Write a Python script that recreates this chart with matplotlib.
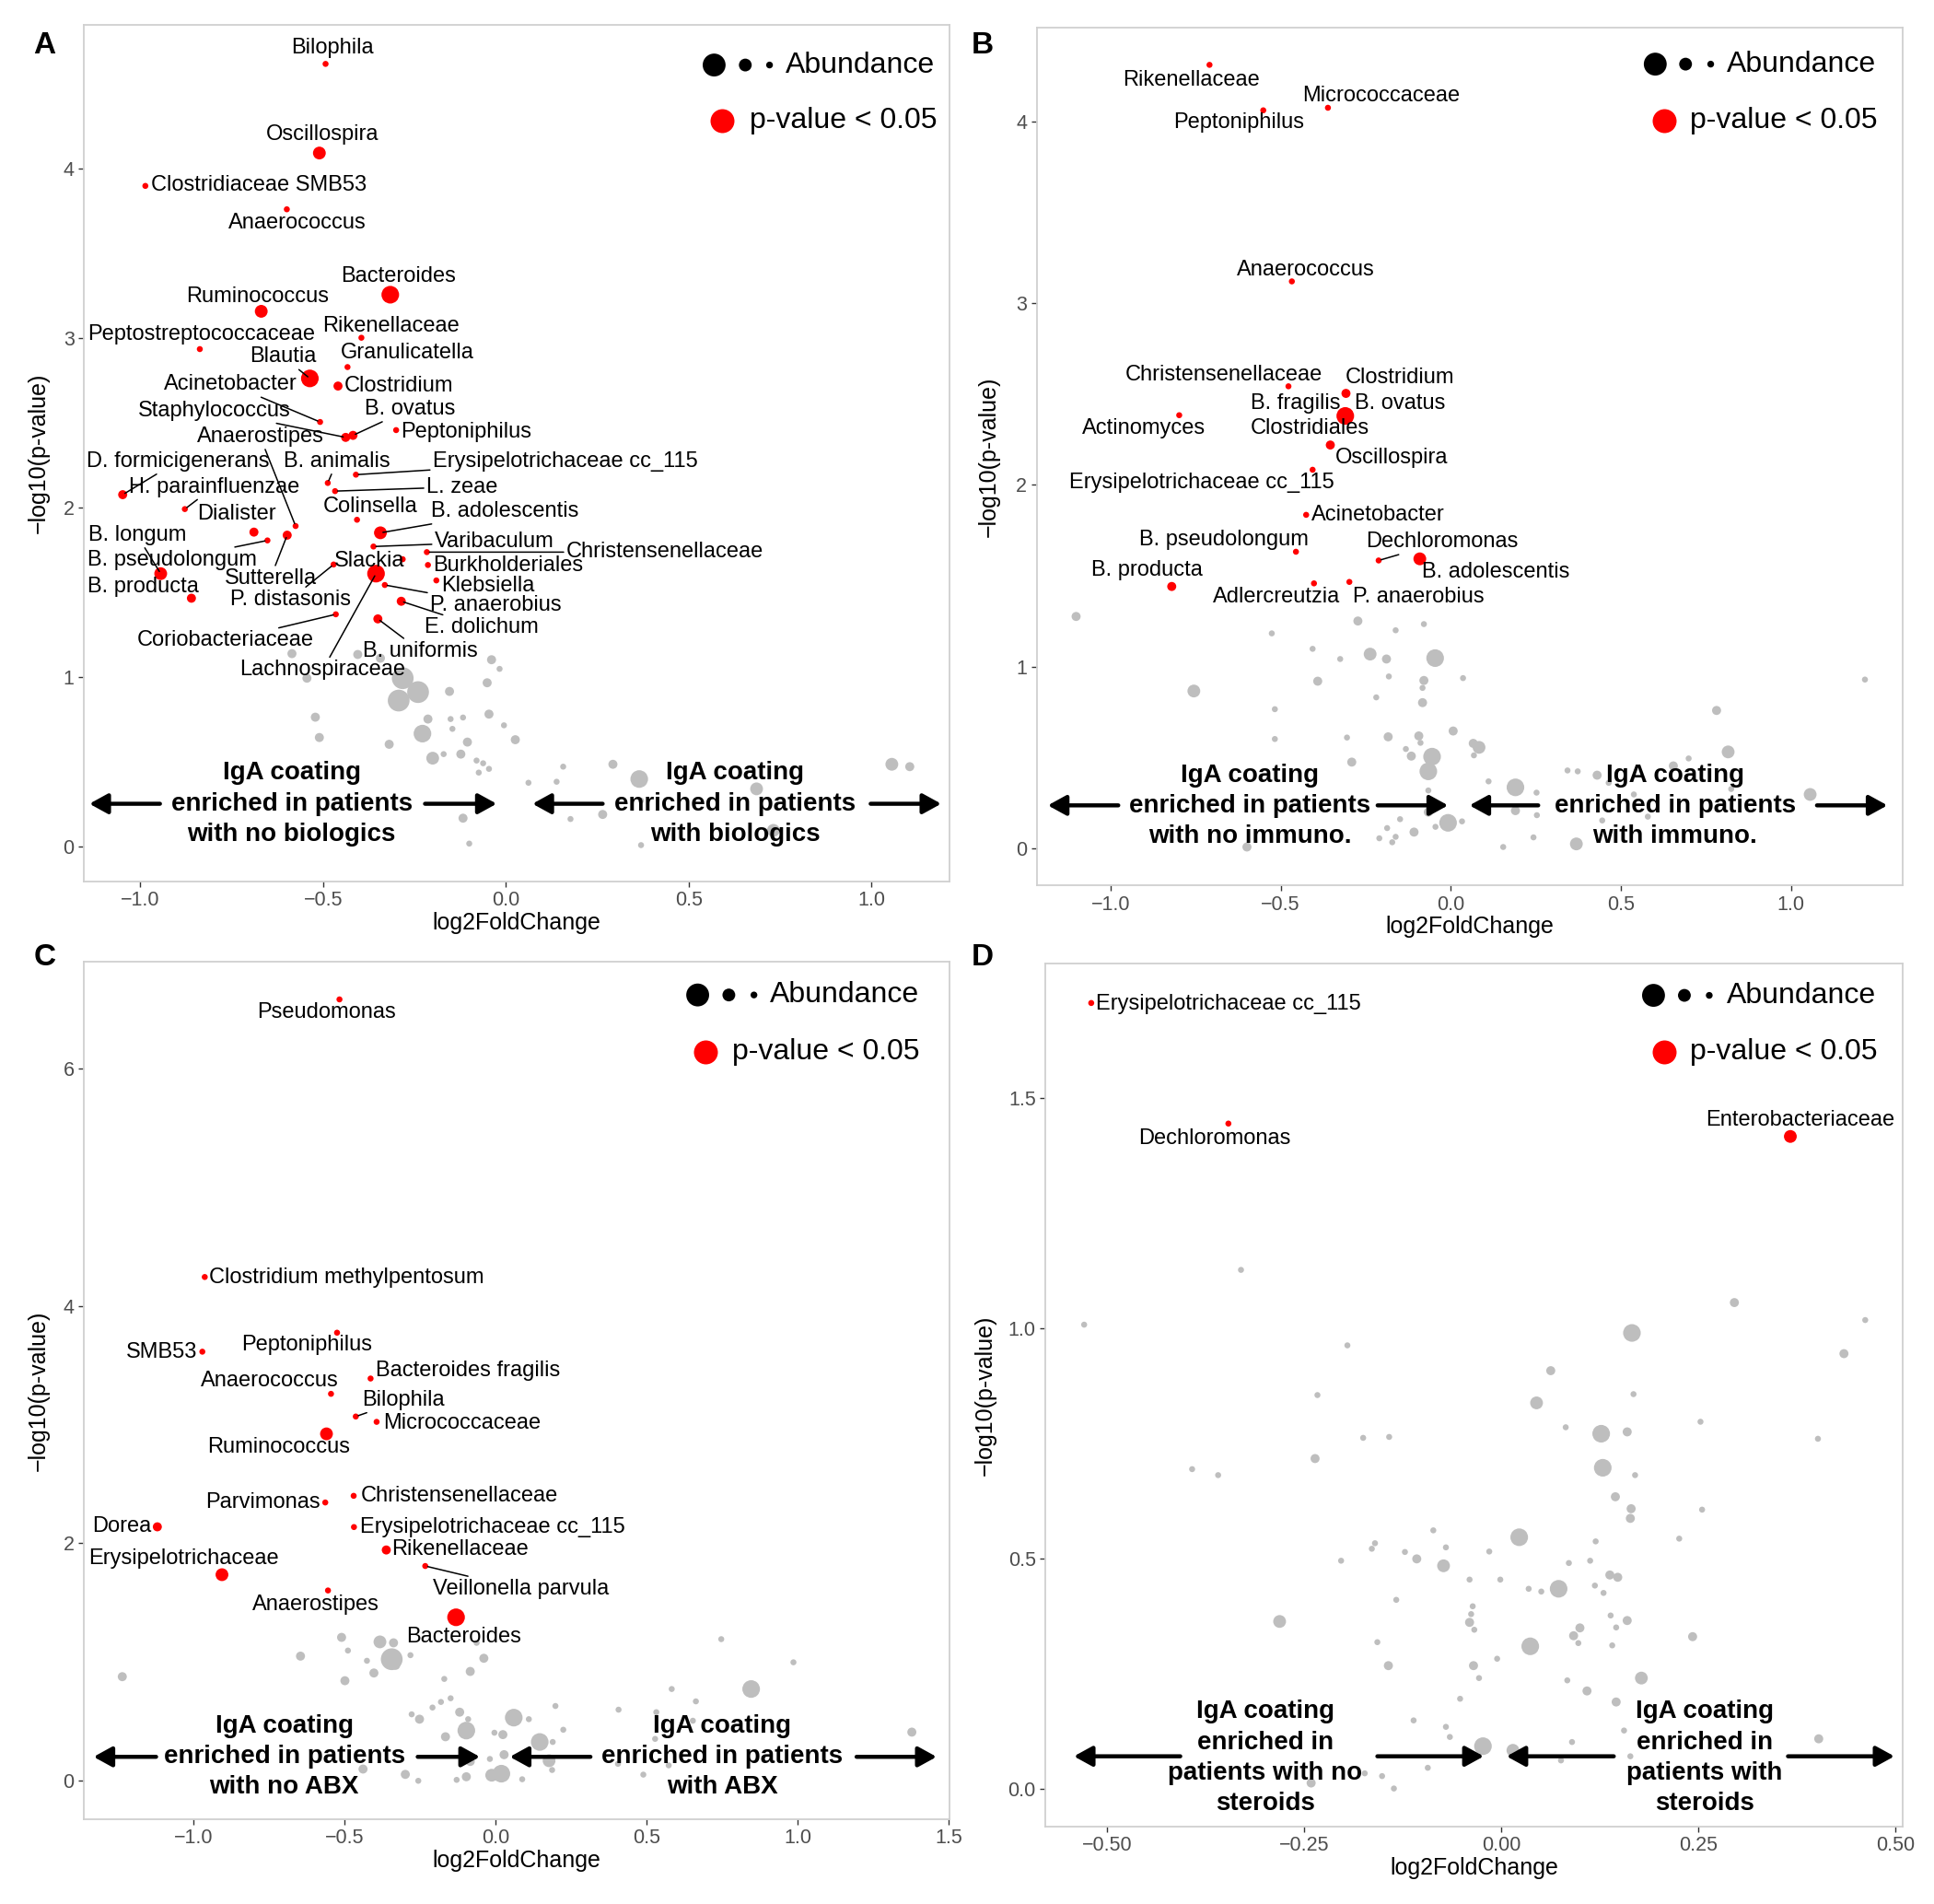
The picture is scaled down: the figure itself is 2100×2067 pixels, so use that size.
import matplotlib
matplotlib.use("Agg")
import matplotlib.pyplot as plt

plt.rcParams['font.family'] = ['Liberation Sans', 'DejaVu Sans']

# ---------------------------------------------------------------
# Panel A: biologics vs no biologics
# ---------------------------------------------------------------
a_sig_names = ["Bilophila", "Oscillospira", "Clostridiaceae SMB53", "Anaerococcus",
               "Bacteroides", "Ruminococcus", "Rikenellaceae", "Peptostreptococcaceae",
               "Blautia", "Granulicatella", "Clostridium", "Acinetobacter",
               "Staphylococcus", "B. ovatus", "Anaerostipes", "Peptoniphilus",
               "D. formicigenerans", "B. animalis", "Erysipelotrichaceae cc_115",
               "H. parainfluenzae", "L. zeae", "Dialister", "Colinsella",
               "B. adolescentis", "B. longum", "Varibaculum", "Christensenellaceae",
               "B. pseudolongum", "Burkholderiales", "Slackia", "Sutterella",
               "Klebsiella", "B. producta", "P. distasonis", "P. anaerobius",
               "E. dolichum", "Coriobacteriaceae", "B. uniformis", "Lachnospiraceae"]
a_sig_x = [-0.493, -0.510, -0.986, -0.599, -0.316, -0.669, -0.395, -0.837,
           -0.536, -0.433, -0.459, -0.508, -0.438, -0.418, -0.575, -0.300,
           -1.048, -0.487, -0.410, -0.878, -0.467, -0.689, -0.407,
           -0.343, -0.944, -0.362, -0.216, -0.652, -0.213, -0.282, -0.598,
           -0.190, -0.860, -0.471, -0.331, -0.286, -0.465, -0.350, -0.355]
a_sig_y = [4.62, 4.094, 3.90, 3.762, 3.258, 3.16, 3.004, 2.937,
           2.764, 2.831, 2.719, 2.507, 2.416, 2.428, 1.893, 2.459,
           2.078, 2.147, 2.196, 1.993, 2.099, 1.857, 1.93,
           1.853, 1.612, 1.772, 1.739, 1.808, 1.663, 1.697, 1.839,
           1.572, 1.467, 1.666, 1.545, 1.449, 1.372, 1.345, 1.612]
a_sig_ab = [1, 3, 1, 1, 4, 3, 1, 1,
            4, 1, 2, 1, 2, 2, 1, 1,
            2, 1, 1, 1, 1, 2, 1,
            3, 3, 1, 1, 1, 1, 1, 2,
            1, 2, 1, 1, 2, 1, 2, 4]
a_ns_x = [-0.585, -0.405, -0.343, -0.039, -0.017, -0.544, -0.282, -0.24, -0.293,
          -0.154, -0.051, -0.046, -0.521, -0.213, -0.117, -0.005, -0.228, -0.151,
          -0.51, -0.146, -0.319, -0.105, 0.026, -0.123, -0.17, -0.2, -0.08,
          -0.062, -0.046, -0.074, 0.157, 0.293, 0.365, 0.062, 0.139, 0.686,
          1.056, 1.105, -0.117, 0.177, 0.265, 0.732, 0.37, -0.10, 0.37]
a_ns_y = [1.14, 1.135, 1.113, 1.104, 1.05, 0.995, 0.995, 0.913, 0.863,
          0.917, 0.968, 0.783, 0.765, 0.754, 0.763, 0.717, 0.668, 0.754,
          0.645, 0.696, 0.605, 0.618, 0.632, 0.547, 0.547, 0.523, 0.509,
          0.493, 0.46, 0.438, 0.473, 0.487, 0.40, 0.378, 0.384, 0.342,
          0.487, 0.473, 0.169, 0.164, 0.191, 0.097, 0.273, 0.019, 0.01]
a_ns_ab = [2, 2, 2, 2, 1, 2, 5, 5, 5,
           2, 2, 2, 2, 2, 1, 1, 4, 1,
           2, 1, 2, 2, 2, 2, 1, 3, 1,
           1, 1, 1, 1, 2, 4, 1, 1, 3,
           3, 2, 2, 1, 2, 3, 1, 1, 1]

# ---------------------------------------------------------------
# Panel B: immunomodulators vs none
# ---------------------------------------------------------------
b_sig_names = ["Rikenellaceae", "Micrococcaceae", "Peptoniphilus", "Anaerococcus",
               "Christensenellaceae", "Clostridium", "B. fragilis", "B. ovatus",
               "Actinomyces", "Clostridiales", "Oscillospira",
               "Erysipelotrichaceae cc_115", "Acinetobacter", "B. pseudolongum",
               "Dechloromonas", "B. adolescentis", "B. producta", "Adlercreutzia",
               "P. anaerobius"]
b_sig_x = [-0.709, -0.361, -0.551, -0.467, -0.477, -0.308, -0.315, -0.305,
           -0.798, -0.310, -0.354, -0.406, -0.425, -0.455, -0.212, -0.091,
           -0.820, -0.402, -0.298]
b_sig_y = [4.31, 4.074, 4.06, 3.119, 2.542, 2.503, 2.39, 2.37,
           2.383, 2.379, 2.219, 2.083, 1.835, 1.632, 1.584, 1.593,
           1.441, 1.458, 1.466]
b_sig_ab = [1, 1, 1, 1, 1, 2, 1, 1, 1, 4, 2, 1, 1, 1, 1, 3, 2, 1, 1]
b_ns_x = [-1.101, -0.273, -0.079, -0.162, -0.526, -0.406, -0.237, -0.046, -0.325,
          -0.189, -0.182, -0.079, 0.036, -0.391, -0.755, -0.083, -0.219, -0.083,
          1.217, -0.517, 0.781, 0.007, -0.517, -0.305, -0.184, -0.094, -0.089,
          0.066, 0.083, -0.132, -0.116, -0.055, 0.068, 0.815, -0.291, 0.699,
          0.654, -0.066, 0.343, 0.373, 0.43, 0.111, 0.19, -0.066, 0.252,
          0.464, 0.824, 1.056, 0.538, 0.19, -0.066, 0.253, 0.579, 0.033,
          -0.149, -0.008, -0.045, 0.445, -0.187, -0.108, -0.162, -0.21, -0.172,
          0.243, 0.369, 0.154, -0.599]
b_ns_y = [1.276, 1.251, 1.234, 1.2, 1.183, 1.098, 1.069, 1.047, 1.042,
          1.042, 0.946, 0.924, 0.937, 0.92, 0.866, 0.883, 0.831, 0.802,
          0.929, 0.766, 0.759, 0.646, 0.602, 0.61, 0.614, 0.619, 0.581,
          0.578, 0.556, 0.547, 0.508, 0.505, 0.512, 0.531, 0.475, 0.495,
          0.454, 0.424, 0.429, 0.424, 0.403, 0.369, 0.336, 0.319, 0.307,
          0.361, 0.327, 0.297, 0.297, 0.208, 0.2, 0.183, 0.175, 0.149,
          0.161, 0.141, 0.119, 0.154, 0.112, 0.09, 0.064, 0.056, 0.034,
          0.061, 0.025, 0.008, 0.008]
b_ns_ab = [2, 2, 1, 1, 1, 1, 3, 4, 1,
           2, 1, 2, 1, 2, 3, 1, 1, 2,
           1, 1, 2, 2, 1, 1, 2, 2, 1,
           2, 3, 1, 2, 4, 1, 3, 2, 1,
           2, 4, 1, 1, 2, 1, 4, 1, 1,
           1, 1, 3, 1, 2, 2, 1, 1, 1,
           1, 4, 1, 1, 1, 2, 1, 1, 1,
           1, 3, 1, 2]

# ---------------------------------------------------------------
# Panel C: antibiotics vs none
# ---------------------------------------------------------------
c_sig_names = ["Pseudomonas", "Clostridium methylpentosum", "Peptoniphilus", "SMB53",
               "Bacteroides fragilis", "Anaerococcus", "Bilophila", "Micrococcaceae",
               "Ruminococcus", "Parvimonas", "Christensenellaceae", "Dorea",
               "Erysipelotrichaceae cc_115", "Rikenellaceae", "Veillonella parvula",
               "Erysipelotrichaceae", "Anaerostipes", "Bacteroides"]
c_sig_x = [-0.517, -0.963, -0.525, -0.971, -0.414, -0.545, -0.463, -0.394,
           -0.560, -0.564, -0.470, -1.120, -0.469, -0.362, -0.233,
           -0.906, -0.555, -0.131]
c_sig_y = [6.581, 4.243, 3.774, 3.614, 3.388, 3.259, 3.068, 3.023,
           2.922, 2.344, 2.40, 2.139, 2.137, 1.944, 1.809,
           1.736, 1.603, 1.377]
c_sig_ab = [1, 1, 1, 1, 1, 1, 1, 1, 3, 1, 1, 2, 1, 2, 1, 3, 1, 4]
c_ns_x = [-0.51, -0.383, -0.338, -0.063, 0.747, -0.646, -0.489, -0.282, -0.344,
          -0.426, -0.331, -0.039, 0.986, -1.236, -0.403, -0.084, -0.499, -0.17,
          0.846, 0.583, 0.663, -0.149, -0.181, -0.209, 0.198, 0.407, -0.119,
          -0.278, -0.252, 0.06, -0.091, 0.11, 0.532, 0.653, -0.097, 0.224,
          -0.004, 0.024, -0.166, 1.378, 0.146, 0.189, 0.528, 0.028, -0.019,
          0.177, -0.084, 0.405, -0.439, 0.187, 0.573, -0.299, 0.019, -0.013,
          -0.097, -0.256, -0.129, 0.088, 0.489]
c_ns_y = [1.208, 1.17, 1.162, 1.162, 1.193, 1.05, 1.097, 1.058, 1.024,
          1.011, 0.973, 1.032, 0.998, 0.877, 0.908, 0.921, 0.843, 0.858,
          0.773, 0.773, 0.669, 0.695, 0.664, 0.617, 0.63, 0.599, 0.578,
          0.56, 0.519, 0.532, 0.519, 0.519, 0.578, 0.506, 0.423, 0.43,
          0.405, 0.389, 0.371, 0.41, 0.327, 0.327, 0.353, 0.22, 0.184,
          0.169, 0.163, 0.143, 0.099, 0.091, 0.13, 0.054, 0.06, 0.047,
          0.034, 0.0, 0.008, 0.013, 0.052]
c_ns_ab = [2, 3, 2, 1, 1, 2, 1, 1, 5,
           1, 2, 2, 1, 2, 2, 2, 2, 1,
           4, 1, 1, 1, 1, 1, 1, 1, 2,
           1, 2, 4, 1, 1, 1, 1, 4, 1,
           1, 2, 2, 2, 4, 1, 1, 2, 1,
           3, 2, 1, 2, 1, 1, 2, 4, 3,
           2, 1, 1, 1, 1]

# ---------------------------------------------------------------
# Panel D: steroids vs none
# ---------------------------------------------------------------
d_sig_names = ["Erysipelotrichaceae cc_115", "Dechloromonas", "Enterobacteriaceae"]
d_sig_x = [-0.52, -0.346, 0.367]
d_sig_y = [1.707, 1.445, 1.417]
d_sig_ab = [1, 1, 3]
d_ns_x = [-0.33, -0.529, -0.195, 0.296, 0.462, 0.166, 0.435, 0.063, -0.233,
          0.168, 0.045, 0.253, 0.082, 0.127, 0.16, -0.175, -0.142, 0.402,
          -0.236, -0.392, -0.359, 0.129, 0.17, 0.145, 0.165, 0.255, 0.164,
          -0.086, 0.023, 0.226, -0.16, -0.164, -0.07, 0.12, -0.122, -0.015,
          -0.107, -0.203, 0.086, 0.113, -0.073, 0.138, 0.148, -0.04, -0.001,
          0.035, 0.073, 0.051, 0.119, 0.13, -0.133, -0.036, -0.038, -0.04,
          -0.281, 0.139, 0.16, -0.034, 0.1, 0.146, 0.092, 0.243, 0.098,
          0.037, 0.141, -0.157, -0.005, -0.143, -0.035, -0.028, 0.178, 0.084,
          0.109, -0.052, 0.146, -0.111, -0.07, -0.065, 0.156, 0.403, 0.09,
          -0.023, 0.015, 0.076, 0.164, -0.093, -0.151, -0.173, -0.241, -0.136]
d_ns_y = [1.127, 1.008, 0.963, 1.056, 1.018, 0.99, 0.945, 0.908, 0.855,
          0.857, 0.838, 0.797, 0.785, 0.771, 0.775, 0.762, 0.764, 0.76,
          0.717, 0.694, 0.681, 0.697, 0.681, 0.634, 0.608, 0.606, 0.587,
          0.561, 0.546, 0.543, 0.533, 0.521, 0.524, 0.537, 0.514, 0.515,
          0.499, 0.495, 0.49, 0.495, 0.484, 0.464, 0.459, 0.454, 0.454,
          0.434, 0.434, 0.428, 0.441, 0.425, 0.41, 0.396, 0.379, 0.361,
          0.363, 0.376, 0.365, 0.345, 0.349, 0.35, 0.332, 0.33, 0.316,
          0.309, 0.311, 0.318, 0.282, 0.267, 0.267, 0.24, 0.24, 0.235,
          0.212, 0.195, 0.188, 0.148, 0.134, 0.112, 0.126, 0.108, 0.101,
          0.092, 0.083, 0.061, 0.07, 0.045, 0.027, 0.033, 0.012, 0.0]
d_ns_ab = [1, 1, 1, 2, 1, 4, 2, 2, 1,
           1, 3, 1, 1, 4, 2, 1, 1, 1,
           2, 1, 1, 4, 1, 2, 2, 1, 2,
           1, 4, 1, 1, 1, 1, 1, 1, 1,
           2, 1, 1, 1, 3, 2, 2, 1, 1,
           1, 4, 1, 1, 1, 1, 1, 1, 2,
           3, 1, 2, 1, 2, 1, 2, 2, 1,
           4, 1, 1, 1, 2, 2, 1, 3, 1,
           2, 1, 2, 1, 1, 1, 1, 2, 1,
           4, 3, 1, 1, 1, 1, 1, 2, 1]

# ---------------------------------------------------------------
# layout: label placement (data coords of text centre), leader lines
# ---------------------------------------------------------------
a_label_xy = {
    "Bilophila": (-0.475, 4.715), "Oscillospira": (-0.501, 4.201),
    "Clostridiaceae SMB53": (-0.675, 3.902), "Anaerococcus": (-0.570, 3.681),
    "Bacteroides": (-0.293, 3.367), "Ruminococcus": (-0.678, 3.249),
    "Rikenellaceae": (-0.313, 3.073), "Peptostreptococcaceae": (-0.832, 3.024),
    "Blautia": (-0.609, 2.891), "Granulicatella": (-0.270, 2.913),
    "Clostridium": (-0.293, 2.719), "Acinetobacter": (-0.752, 2.728),
    "Staphylococcus": (-0.798, 2.574), "B. ovatus": (-0.263, 2.583),
    "Peptoniphilus": (-0.109, 2.447), "Anaerostipes": (-0.672, 2.42),
    "D. formicigenerans": (-0.898, 2.274), "B. animalis": (-0.462, 2.274),
    "Erysipelotrichaceae cc_115": (0.162, 2.274), "H. parainfluenzae": (-0.798, 2.124),
    "L. zeae": (-0.120, 2.124), "Dialister": (-0.736, 1.966),
    "Colinsella": (-0.371, 2.006), "B. adolescentis": (-0.0015, 1.98),
    "B. longum": (-1.009, 1.839), "Varibaculum": (-0.032, 1.799),
    "Christensenellaceae": (0.435, 1.739), "B. pseudolongum": (-0.912, 1.694),
    "Burkholderiales": (0.006, 1.658), "Slackia": (-0.374, 1.688),
    "Sutterella": (-0.644, 1.585), "Klebsiella": (-0.048, 1.539),
    "B. producta": (-0.991, 1.534), "P. distasonis": (-0.590, 1.458),
    "P. anaerobius": (-0.028, 1.427), "E. dolichum": (-0.066, 1.294),
    "Coriobacteriaceae": (-0.767, 1.217), "B. uniformis": (-0.233, 1.155),
    "Lachnospiraceae": (-0.501, 1.044),
}
a_segments = {"Blautia", "Acinetobacter", "Staphylococcus", "B. ovatus", "Anaerostipes",
              "D. formicigenerans", "H. parainfluenzae", "B. animalis",
              "Erysipelotrichaceae cc_115", "L. zeae", "B. adolescentis", "B. longum",
              "B. pseudolongum", "Sutterella", "P. distasonis", "Varibaculum",
              "Christensenellaceae", "Lachnospiraceae", "Coriobacteriaceae",
              "P. anaerobius", "E. dolichum", "B. uniformis"}

b_label_xy = {
    "Rikenellaceae": (-0.762, 4.228), "Micrococcaceae": (-0.204, 4.141),
    "Peptoniphilus": (-0.624, 3.994), "Anaerococcus": (-0.427, 3.183),
    "Christensenellaceae": (-0.666, 2.606), "Clostridium": (-0.149, 2.587),
    "B. fragilis": (-0.455, 2.447), "B. ovatus": (-0.149, 2.447),
    "Actinomyces": (-0.902, 2.31), "Clostridiales": (-0.414, 2.31),
    "Oscillospira": (-0.174, 2.151), "Erysipelotrichaceae cc_115": (-0.733, 2.012),
    "Acinetobacter": (-0.215, 1.835), "B. pseudolongum": (-0.667, 1.70),
    "Dechloromonas": (-0.025, 1.686), "B. adolescentis": (0.132, 1.522),
    "B. producta": (-0.894, 1.531), "Adlercreutzia": (-0.513, 1.383),
    "P. anaerobius": (-0.094, 1.383),
}
b_segments = {"Dechloromonas"}

c_label_xy = {
    "Pseudomonas": (-0.56, 6.47), "Clostridium methylpentosum": (-0.495, 4.24),
    "SMB53": (-1.107, 3.607), "Peptoniphilus": (-0.624, 3.67),
    "Bacteroides fragilis": (-0.093, 3.457), "Anaerococcus": (-0.747, 3.37),
    "Bilophila": (-0.306, 3.207), "Micrococcaceae": (-0.112, 3.009),
    "Ruminococcus": (-0.719, 2.814), "Parvimonas": (-0.77, 2.344),
    "Christensenellaceae": (-0.119, 2.40), "Dorea": (-1.238, 2.146),
    "Erysipelotrichaceae cc_115": (-0.009, 2.137), "Rikenellaceae": (-0.119, 1.948),
    "Erysipelotrichaceae": (-1.032, 1.871), "Veillonella parvula": (0.084, 1.616),
    "Anaerostipes": (-0.594, 1.486), "Bacteroides": (-0.106, 1.214),
}
c_segments = {"Bilophila", "Veillonella parvula"}

d_label_xy = {
    "Erysipelotrichaceae cc_115": (-0.346, 1.705),
    "Dechloromonas": (-0.364, 1.413),
    "Enterobacteriaceae": (0.38, 1.453),
}
d_segments = set()

# abundance class -> marker area (pt^2)
SIZE = {1: 22, 2: 50, 3: 100, 4: 190, 5: 290}
GREY = "#BEBEBE"
RED = "#FF0000"


def draw_arrow(ax, x0, x1, y):
    ax.annotate("", xy=(x1, y), xytext=(x0, y), xycoords="data",
                arrowprops=dict(arrowstyle="-|>,head_length=0.6,head_width=0.33",
                                lw=3.2, color="black", mutation_scale=20,
                                shrinkA=0, shrinkB=0))


def draw_panel(ax, letter_pos, letter, sig_names, sig_x, sig_y, sig_ab, ns_x, ns_y, ns_ab,
               label_xy, segments, xlim, ylim, xticks, yticks, fmt_x, fmt_y,
               groups, legend, ylab_x):
    ax.scatter(ns_x, ns_y, s=[SIZE[a] for a in ns_ab], color=GREY, lw=0, zorder=2)
    ax.scatter(sig_x, sig_y, s=[SIZE[a] for a in sig_ab], color=RED, lw=0, zorder=3)

    for name, px, py in zip(sig_names, sig_x, sig_y):
        lx, ly = label_xy[name]
        if name in segments:
            ax.annotate(name, xy=(px, py), xytext=(lx, ly), ha="center", va="center",
                        fontsize=17, zorder=4,
                        arrowprops=dict(arrowstyle="-", color="black", lw=1.1,
                                        shrinkA=0, shrinkB=2))
        else:
            ax.text(lx, ly, name, ha="center", va="center", fontsize=17, zorder=4)

    # "IgA coating enriched in ..." arrows
    for (tip_l, line_l, line_r, tip_r, y, tx, ty, txt) in groups:
        draw_arrow(ax, line_l, tip_l, y)
        draw_arrow(ax, line_r, tip_r, y)
        ax.text(tx, ty, txt, ha="center", va="center", fontsize=20,
                fontweight="bold", linespacing=1.36, zorder=5)

    # manual legend
    (bx, mx, sx, tx1, y1, rx, tx2, y2) = legend
    ax.scatter([bx, mx, sx], [y1, y1, y1], s=[320, 100, 28], color="black", lw=0,
               transform=ax.transAxes, clip_on=False, zorder=6)
    ax.text(tx1, y1, "Abundance", transform=ax.transAxes, ha="left", va="center",
            fontsize=23)
    ax.scatter([rx], [y2], s=[350], color=RED, lw=0, transform=ax.transAxes,
               clip_on=False, zorder=6)
    ax.text(tx2, y2, "p-value < 0.05", transform=ax.transAxes, ha="left",
            va="center", fontsize=23)

    ax.set_xlim(*xlim)
    ax.set_ylim(*ylim)
    ax.set_xticks(xticks)
    ax.set_xticklabels([fmt_x.format(v).replace("-", "\u2212") for v in xticks])
    ax.set_yticks(yticks)
    ax.set_yticklabels([fmt_y.format(v) for v in yticks])
    ax.tick_params(labelsize=15.5, labelcolor="#4D4D4D", color="#333333",
                   length=4, width=1)
    for sp in ax.spines.values():
        sp.set_color("#D0D0D0")
        sp.set_linewidth(1.3)
    ax.set_xlabel("log2FoldChange", fontsize=18)
    ax.set_ylabel("\u2212log10(p-value)", fontsize=18)
    ax.xaxis.set_label_coords(0.5, -0.035)
    ax.yaxis.set_label_coords(ylab_x, 0.5)
    ax.figure.text(letter_pos[0], letter_pos[1], letter, fontsize=24,
                   fontweight="bold", ha="center", va="center")


fig = plt.figure(figsize=(21, 20.67), dpi=100)
axA = fig.add_axes([0.0434, 0.537, 0.4476, 0.450])
axB = fig.add_axes([0.536, 0.535, 0.448, 0.4507])
axC = fig.add_axes([0.0434, 0.0445, 0.4476, 0.4505])
axD = fig.add_axes([0.5406, 0.0406, 0.4434, 0.4534])

draw_panel(axA, (0.023, 0.976), "A", a_sig_names, a_sig_x, a_sig_y, a_sig_ab,
           a_ns_x, a_ns_y, a_ns_ab, a_label_xy, a_segments,
           (-1.154, 1.214), (-0.205, 4.851), [-1.0, -0.5, 0.0, 0.5, 1.0], [0, 1, 2, 3, 4],
           "{:.1f}", "{:d}",
           [(-1.139, -0.946, -0.221, -0.025, 0.254, -0.586, 0.254,
             "IgA coating\nenriched in patients\nwith no biologics"),
            (0.073, 0.265, 0.998, 1.191, 0.254, 0.628, 0.254,
             "IgA coating\nenriched in patients\nwith biologics")],
           (0.728, 0.764, 0.792, 0.810, 0.953, 0.737, 0.769, 0.888), -0.040)

draw_panel(axB, (0.508, 0.976), "B", b_sig_names, b_sig_x, b_sig_y, b_sig_ab,
           b_ns_x, b_ns_y, b_ns_ab, b_label_xy, b_segments,
           (-1.217, 1.329), (-0.203, 4.517), [-1.0, -0.5, 0.0, 0.5, 1.0], [0, 1, 2, 3, 4],
           "{:.1f}", "{:d}",
           [(-1.184, -0.977, -0.215, -0.008, 0.237, -0.591, 0.232,
             "IgA coating\nenriched in patients\nwith no immuno."),
            (0.055, 0.257, 1.076, 1.283, 0.237, 0.659, 0.232,
             "IgA coating\nenriched in patients\nwith immuno.")],
           (0.714, 0.749, 0.778, 0.797, 0.957, 0.724, 0.754, 0.891), -0.042)

draw_panel(axC, (0.023, 0.497), "C", c_sig_names, c_sig_x, c_sig_y, c_sig_ab,
           c_ns_x, c_ns_y, c_ns_ab, c_label_xy, c_segments,
           (-1.363, 1.503), (-0.324, 6.90), [-1.0, -0.5, 0.0, 0.5, 1.0, 1.5], [0, 2, 4, 6],
           "{:.1f}", "{:d}",
           [(-1.331, -1.124, -0.258, -0.052, 0.202, -0.70, 0.205,
             "IgA coating\nenriched in patients\nwith no ABX"),
            (0.047, 0.314, 1.195, 1.46, 0.202, 0.751, 0.205,
             "IgA coating\nenriched in patients\nwith ABX")],
           (0.709, 0.745, 0.774, 0.792, 0.961, 0.718, 0.749, 0.895), -0.040)

draw_panel(axD, (0.508, 0.497), "D", d_sig_names, d_sig_x, d_sig_y, d_sig_ab,
           d_ns_x, d_ns_y, d_ns_ab, d_label_xy, d_segments,
           (-0.578, 0.510), (-0.083, 1.793), [-0.5, -0.25, 0.0, 0.25, 0.5],
           [0.0, 0.5, 1.0, 1.5],
           "{:.2f}", "{:.1f}",
           [(-0.542, -0.407, -0.157, -0.022, 0.07, -0.299, 0.067,
             "IgA coating\nenriched in\npatients with no\nsteroids"),
            (0.007, 0.143, 0.364, 0.499, 0.07, 0.258, 0.067,
             "IgA coating\nenriched in\npatients with\nsteroids")],
           (0.709, 0.745, 0.774, 0.794, 0.963, 0.721, 0.751, 0.897), -0.057)

fig.savefig("out.png", dpi=100, facecolor="white")
